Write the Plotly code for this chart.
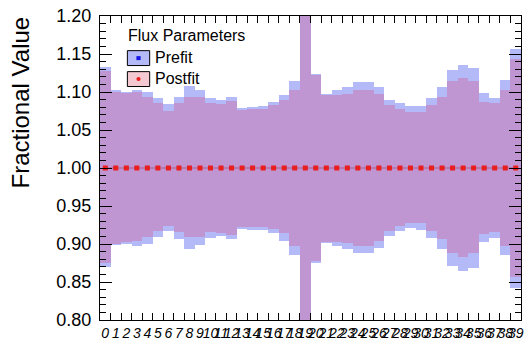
import plotly.graph_objects as go

# Flux parameter bins and their fractional bands
param_labels = [str(i) for i in range(40)]

prefit_central = [1.0, 1.0, 1.0, 1.0, 1.0, 1.0, 1.0, 1.0, 1.0, 1.0,
                  1.0, 1.0, 1.0, 1.0, 1.0, 1.0, 1.0, 1.0, 1.0, 1.0,
                  1.0, 1.0, 1.0, 1.0, 1.0, 1.0, 1.0, 1.0, 1.0, 1.0,
                  1.0, 1.0, 1.0, 1.0, 1.0, 1.0, 1.0, 1.0, 1.0, 1.0]
postfit_central = [1.0, 1.0, 1.0, 1.0, 1.0, 1.0, 1.0, 1.0, 1.0, 1.0,
                   1.0, 1.0, 1.0, 1.0, 1.0, 1.0, 1.0, 1.0, 1.0, 1.0,
                   1.0, 1.0, 1.0, 1.0, 1.0, 1.0, 1.0, 1.0, 1.0, 1.0,
                   1.0, 1.0, 1.0, 1.0, 1.0, 1.0, 1.0, 1.0, 1.0, 1.0]

prefit_hi = [1.133, 1.102, 1.100, 1.103, 1.100, 1.092, 1.084, 1.093, 1.108, 1.102,
             1.092, 1.089, 1.094, 1.079, 1.080, 1.082, 1.087, 1.096, 1.115, 1.400,
             1.124, 1.098, 1.103, 1.106, 1.113, 1.113, 1.106, 1.090, 1.085, 1.081,
             1.081, 1.092, 1.107, 1.129, 1.136, 1.132, 1.099, 1.092, 1.116, 1.156]
prefit_lo = [0.870, 0.899, 0.900, 0.897, 0.900, 0.909, 0.917, 0.907, 0.893, 0.899,
             0.908, 0.910, 0.906, 0.920, 0.919, 0.918, 0.914, 0.904, 0.885, 0.600,
             0.875, 0.901, 0.897, 0.894, 0.888, 0.888, 0.895, 0.910, 0.917, 0.921,
             0.919, 0.908, 0.893, 0.871, 0.865, 0.868, 0.903, 0.908, 0.885, 0.842]

postfit_hi = [1.127, 1.100, 1.099, 1.100, 1.093, 1.085, 1.075, 1.085, 1.093, 1.093,
              1.085, 1.084, 1.088, 1.076, 1.077, 1.077, 1.083, 1.089, 1.103, 1.400,
              1.122, 1.096, 1.096, 1.098, 1.103, 1.103, 1.098, 1.083, 1.077, 1.074,
              1.074, 1.083, 1.093, 1.114, 1.118, 1.114, 1.087, 1.085, 1.103, 1.144]
postfit_lo = [0.875, 0.900, 0.902, 0.904, 0.909, 0.917, 0.924, 0.916, 0.909, 0.909,
              0.916, 0.915, 0.912, 0.922, 0.922, 0.922, 0.920, 0.915, 0.898, 0.600,
              0.877, 0.902, 0.902, 0.901, 0.898, 0.898, 0.904, 0.917, 0.924, 0.927,
              0.927, 0.917, 0.907, 0.888, 0.883, 0.888, 0.913, 0.916, 0.898, 0.856]

n_bins = len(param_labels)
centers = [i + 0.5 for i in range(n_bins)]
edges = list(range(n_bins + 1))

PREFIT_FILL = "rgb(180,185,248)"
POSTFIT_FILL = "rgba(225,80,135,0.29)"
POSTFIT_DOT = "rgba(200,40,110,0.18)"
FONT = "Liberation Sans, Arial, Helvetica, sans-serif"

fig = go.Figure()

# Prefit error band: solid light-blue boxes per bin
fig.add_trace(go.Bar(
    x=centers, base=prefit_lo,
    y=[h - l for h, l in zip(prefit_hi, prefit_lo)],
    width=1.0, marker=dict(color=PREFIT_FILL, line=dict(width=0)),
    name="Prefit", showlegend=False,
))

# Postfit error band: translucent red with a fine dot texture over the prefit band
fig.add_trace(go.Bar(
    x=centers, base=postfit_lo,
    y=[h - l for h, l in zip(postfit_hi, postfit_lo)],
    width=1.0,
    marker=dict(color=POSTFIT_FILL, line=dict(width=0),
                pattern=dict(shape=".", fgcolor=POSTFIT_DOT, fillmode="overlay",
                             size=2, solidity=0.5)),
    name="Postfit", showlegend=False,
))

# Central values
fig.add_trace(go.Scatter(
    x=centers, y=prefit_central, mode="markers",
    marker=dict(symbol="square", size=4, color="rgb(20,20,230)"),
    showlegend=False, hoverinfo="skip",
))
fig.add_trace(go.Scatter(
    x=centers, y=postfit_central, mode="lines+markers",
    line=dict(color="rgba(150,30,60,0.6)", width=0.8),
    marker=dict(symbol="square", size=5, color="rgb(235,30,30)", line=dict(width=0)),
    showlegend=False, hoverinfo="skip",
))

fig.update_layout(
    width=530, height=347,
    margin=dict(l=100, r=6, t=13, b=20),
    paper_bgcolor="white", plot_bgcolor="white",
    barmode="overlay", bargap=0,
    font=dict(family=FONT, color="black"),
    xaxis=dict(
        range=[0, n_bins], showgrid=False, zeroline=False,
        tickmode="array", tickvals=centers, ticktext=param_labels,
        ticks="inside", ticklen=0, tickangle=0,
        tickfont=dict(family=FONT, size=14, style="italic"),
        showline=True, linecolor="black", linewidth=1, mirror="ticks",
        minor=dict(tickmode="array", tickvals=edges, ticks="inside",
                   ticklen=7, tickcolor="black", showgrid=False),
    ),
    yaxis=dict(
        range=[0.8, 1.2], showgrid=False, zeroline=False,
        tickmode="linear", tick0=0.8, dtick=0.05, tickformat=".2f",
        ticks="inside", ticklen=12, tickcolor="black", ticklabelstandoff=4,
        tickfont=dict(family=FONT, size=18),
        showline=True, linecolor="black", linewidth=1, mirror="ticks",
        minor=dict(dtick=0.01, ticks="inside", ticklen=6, tickcolor="black",
                   showgrid=False),
    ),
    annotations=[
        dict(text="Fractional Value", textangle=-90, xref="paper", yref="paper",
             x=-0.19, y=1.005, xanchor="center", yanchor="top", showarrow=False,
             font=dict(family=FONT, size=24)),
        dict(text="Flux Parameters", xref="paper", yref="paper",
             x=0.062, y=0.935, xanchor="left", yanchor="middle", showarrow=False,
             font=dict(family=FONT, size=16)),
        dict(text="Prefit", xref="paper", yref="paper",
             x=0.127, y=0.863, xanchor="left", yanchor="middle", showarrow=False,
             font=dict(family=FONT, size=16)),
        dict(text="Postfit", xref="paper", yref="paper",
             x=0.127, y=0.794, xanchor="left", yanchor="middle", showarrow=False,
             font=dict(family=FONT, size=16)),
    ],
    shapes=[
        # legend key boxes
        dict(type="rect", xref="paper", yref="paper",
             x0=0.065, x1=0.118, y0=0.837, y1=0.886,
             fillcolor=PREFIT_FILL, line=dict(color="black", width=1)),
        dict(type="rect", xref="paper", yref="paper",
             x0=0.0865, x1=0.0965, y0=0.855, y1=0.868,
             fillcolor="rgb(20,20,230)", line=dict(width=0)),
        dict(type="rect", xref="paper", yref="paper",
             x0=0.065, x1=0.118, y0=0.768, y1=0.817,
             fillcolor="rgb(244,200,208)", line=dict(color="black", width=1)),
        dict(type="circle", xref="paper", yref="paper",
             x0=0.0865, x1=0.0965, y0=0.786, y1=0.799,
             fillcolor="rgb(235,30,30)", line=dict(width=0)),
    ],
)

fig.write_html("out.html")
